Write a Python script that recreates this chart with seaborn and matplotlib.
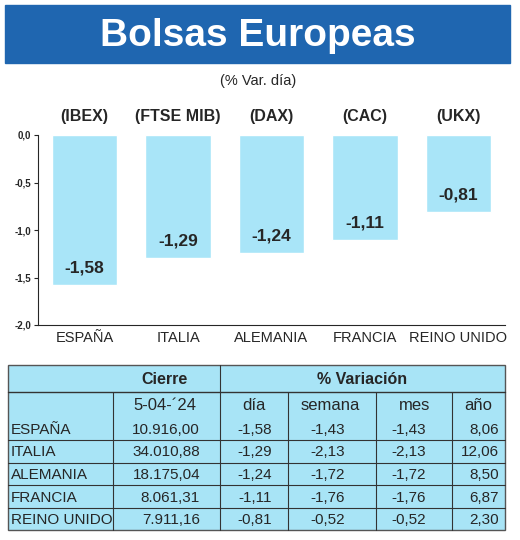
import matplotlib
matplotlib.use("Agg")
import matplotlib.pyplot as plt
import seaborn as sns
import pandas as pd
from matplotlib.patches import Rectangle

paises = ["ESPAÑA", "ITALIA", "ALEMANIA", "FRANCIA", "REINO UNIDO"]
indices = ["(IBEX)", "(FTSE MIB)", "(DAX)", "(CAC)", "(UKX)"]
var_dia = [-1.58, -1.29, -1.24, -1.11, -0.81]
cierre = ["10.916,00", "34.010,88", "18.175,04", "8.061,31", "7.911,16"]
semana = ["-1,43", "-2,13", "-1,72", "-1,76", "-0,52"]
mes = ["-1,43", "-2,13", "-1,72", "-1,76", "-0,52"]
anio = ["8,06", "12,06", "8,50", "6,87", "2,30"]

W, H = 520, 540
BAR = "#a9e5f8"
FILL = "#a8e4f6"
sns.set_style("white")
plt.rcParams["font.family"] = ["Liberation Sans Narrow", "Liberation Sans", "DejaVu Sans"]

fig = plt.figure(figsize=(W / 100, H / 100), dpi=100)

# background axes in pixel coordinates
bg = fig.add_axes([0, 0, 1, 1])
bg.set_xlim(0, W)
bg.set_ylim(H, 0)
bg.axis("off")
bg.add_patch(Rectangle((5, 5), 505, 58, color="#1f66b0"))
bg.text(258, 36, "Bolsas Europeas", color="white", fontsize=28, fontweight="bold",
        ha="center", va="center")
bg.text(258, 81, "(% Var. día)", fontsize=10.5, ha="center", va="center")

# bar chart
ax = fig.add_axes([38 / W, 1 - 325 / H, 467 / W, 190 / H])
df = pd.DataFrame({"pais": paises, "var": var_dia})
sns.barplot(data=df, x="pais", y="var", color=BAR, width=0.7, saturation=1, ax=ax)
ax.set_ylim(-2.0, 0.0)
ax.set_yticks([0, -0.5, -1.0, -1.5, -2.0])
ax.set_yticklabels(["0,0", "-0,5", "-1,0", "-1,5", "-2,0"], fontsize=7, fontweight="bold")
ax.set_xlabel("")
ax.set_ylabel("")
ax.tick_params(axis="x", labelsize=10.5, length=0, pad=4)
ax.tick_params(axis="y", length=3, left=True, pad=2)
for s in ["top", "right"]:
    ax.spines[s].set_visible(False)
for i, v in enumerate(var_dia):
    ax.text(i, v + 0.1, f"{v:.2f}".replace(".", ","), ha="center", va="bottom",
            fontsize=12.5, fontweight="bold")
    ax.text(i, 0.12, indices[i], ha="center", va="bottom", fontsize=11.5,
            fontweight="bold", clip_on=False)

# table
x0, x1 = 8, 505
bg.add_patch(Rectangle((x0, 365), x1 - x0, 165, facecolor=FILL, edgecolor="#555555", lw=1))
bg.plot([x0, x1], [392, 392], color="#333333", lw=1)
bg.plot([220, 220], [365, 530], color="#333333", lw=0.8)
for xv in [113, 288, 376, 452]:
    bg.plot([xv, xv], [392, 530], color="#333333", lw=0.8)
bg.text(165, 379, "Cierre", fontsize=11.5, fontweight="bold", ha="center", va="center")
bg.text(362, 379, "% Variación", fontsize=11.5, fontweight="bold", ha="center", va="center")
bg.text(165, 406, "5-04-´24", fontsize=12, ha="center", va="center")
for xv, lab in zip([254, 330, 415, 478], ["día", "semana", "mes", "año"]):
    bg.text(xv, 406, lab, fontsize=12, ha="center", va="center")
rows = list(zip(paises, cierre, [f"{v:.2f}".replace(".", ",") for v in var_dia], semana, mes, anio))
for k, r in enumerate(rows):
    y = 430 + k * 22.5
    if k < 4:
        bg.plot([x0, x1], [y + 10, y + 10], color="#333333", lw=0.8)
    bg.text(11, y, r[0], fontsize=11, ha="left", va="center")
    bg.text(200, y, r[1], fontsize=11, ha="right", va="center")
    bg.text(272, y, r[2], fontsize=11, ha="right", va="center")
    bg.text(345, y, r[3], fontsize=11, ha="right", va="center")
    bg.text(426, y, r[4], fontsize=11, ha="right", va="center")
    bg.text(499, y, r[5], fontsize=11, ha="right", va="center")

fig.savefig("out.png", dpi=100)
